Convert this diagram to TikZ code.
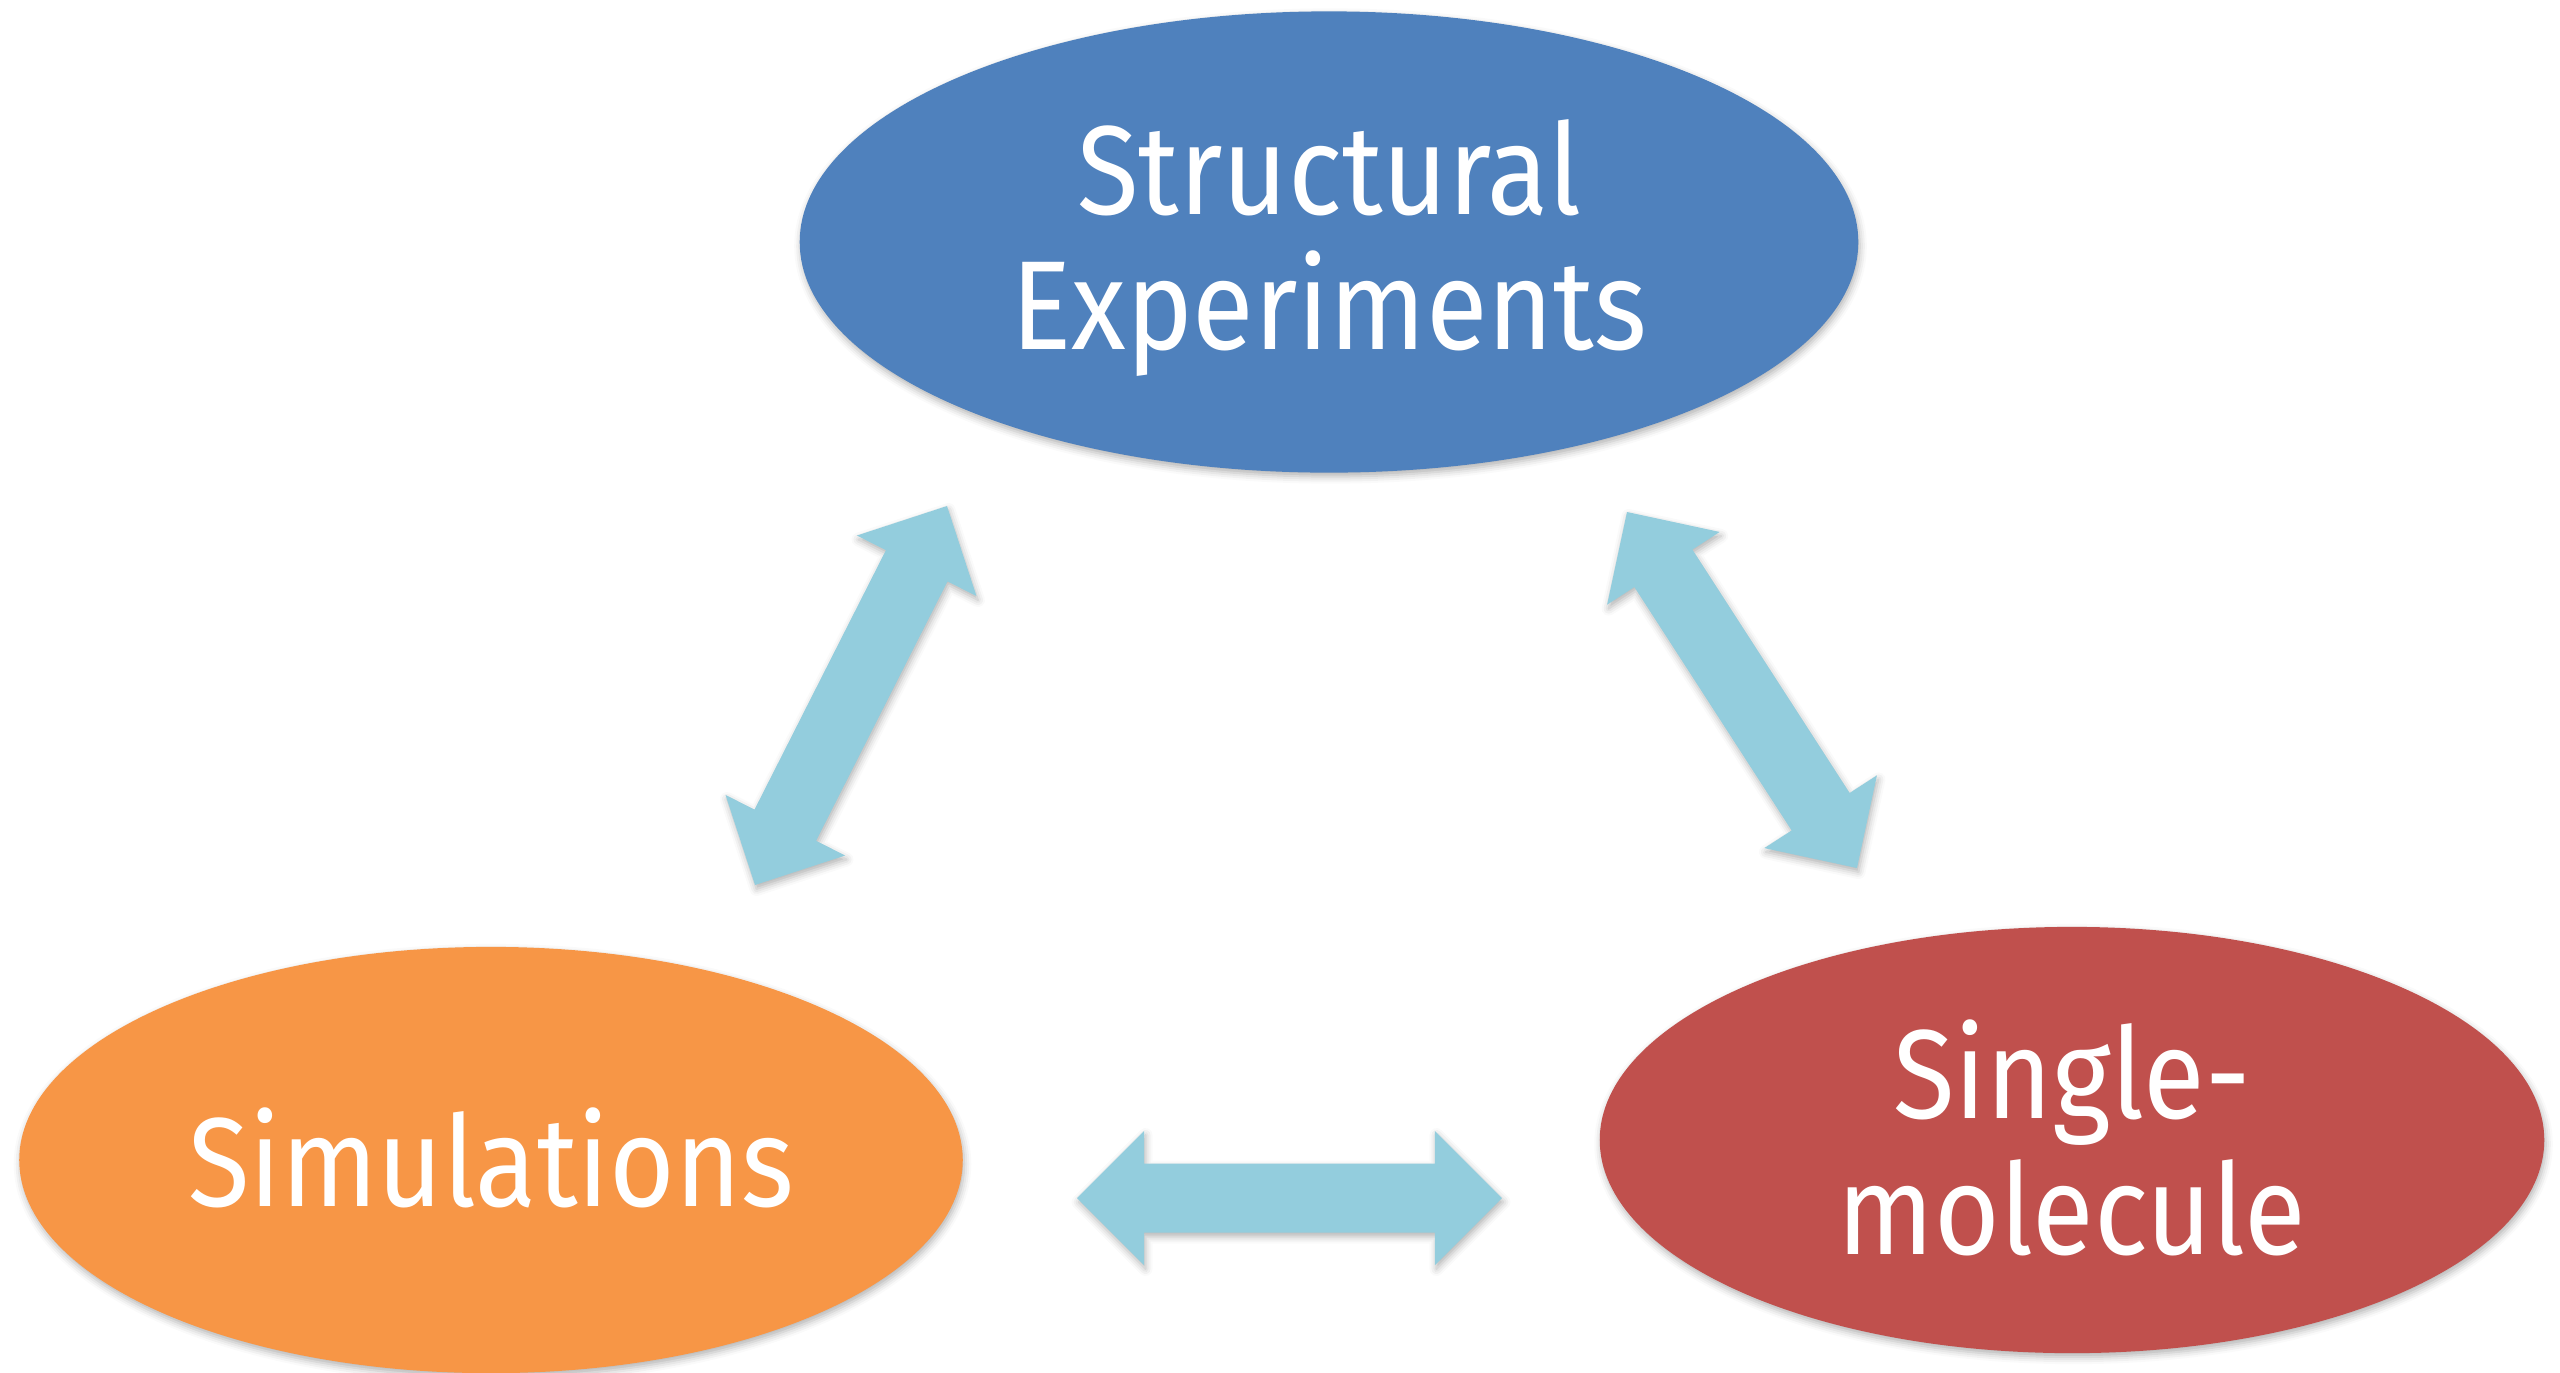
\documentclass[tikz,border=0pt]{standalone}
\usepackage{fontspec}
\setmainfont{Fira Sans}[FakeStretch=0.89]
\usetikzlibrary{shapes.geometric,calc,shadows.blur}

\definecolor{topblue}{HTML}{4F81BD}
\definecolor{simorange}{HTML}{F79646}
\definecolor{smred}{HTML}{C0504D}
\definecolor{arrowblue}{HTML}{93CDDD}

\tikzset{
  soft shadow/.style={blur shadow={shadow xshift=0.015cm, shadow yshift=-0.04cm,
      shadow blur radius=0.07cm, shadow opacity=30}},
  bubble/.style={ellipse, inner sep=0pt, soft shadow},
  bubble text/.style={inner sep=0pt, text=white, align=center,
      font=\fontsize{36}{38.5}\selectfont},
  linkarrow/.style={fill=arrowblue, draw=none, soft shadow}
}

% double-headed block arrow between two named tip coordinates
\newcommand{\blockarrow}[2]{%
  \path[linkarrow]
    (#1)
    -- ($(#1)!0.67cm!(#2)!0.67cm!90:(#2)$)
    -- ($(#1)!0.67cm!(#2)!0.345cm!90:(#2)$)
    -- ($(#2)!0.67cm!(#1)!0.345cm!-90:(#1)$)
    -- ($(#2)!0.67cm!(#1)!0.67cm!-90:(#1)$)
    -- (#2)
    -- ($(#2)!0.67cm!(#1)!0.67cm!90:(#1)$)
    -- ($(#2)!0.67cm!(#1)!0.345cm!90:(#1)$)
    -- ($(#1)!0.67cm!(#2)!0.345cm!-90:(#2)$)
    -- ($(#1)!0.67cm!(#2)!0.67cm!-90:(#2)$)
    -- cycle;%
}

\begin{document}
\begin{tikzpicture}[x=0.01cm, y=-0.01cm]
  \useasboundingbox (0,0) rectangle (2560,1372);

  % three research areas
  \node[bubble, fill=topblue, minimum width=10.58cm, minimum height=4.61cm]
    (exp) at (1329,242) {};
  \node[bubble, fill=simorange, minimum width=9.43cm, minimum height=4.26cm]
    (sim) at (491,1160) {};
  \node[bubble, fill=smred, minimum width=9.44cm, minimum height=4.26cm]
    (sm) at (2072,1140) {};

  \node[bubble text] (expl) at ($(exp.center)+(0,6)$) {Structural\\Experiments};
  \node[bubble text] (siml) at ($(sim.center)+(0,-2)$) {Simulations};
  \node[bubble text] (sml)  at ($(sm.center)+(0,-2)$) {Single-\\molecule};

  % arrow tips
  \coordinate (es) at (947,506);
  \coordinate (se) at (755,885);
  \coordinate (em) at (1627,512);
  \coordinate (me) at (1857,868);
  \coordinate (sl) at (1077,1198);
  \coordinate (sr) at (1502,1198);

  \blockarrow{es}{se}
  \blockarrow{em}{me}
  \blockarrow{sl}{sr}
\end{tikzpicture}
\end{document}
